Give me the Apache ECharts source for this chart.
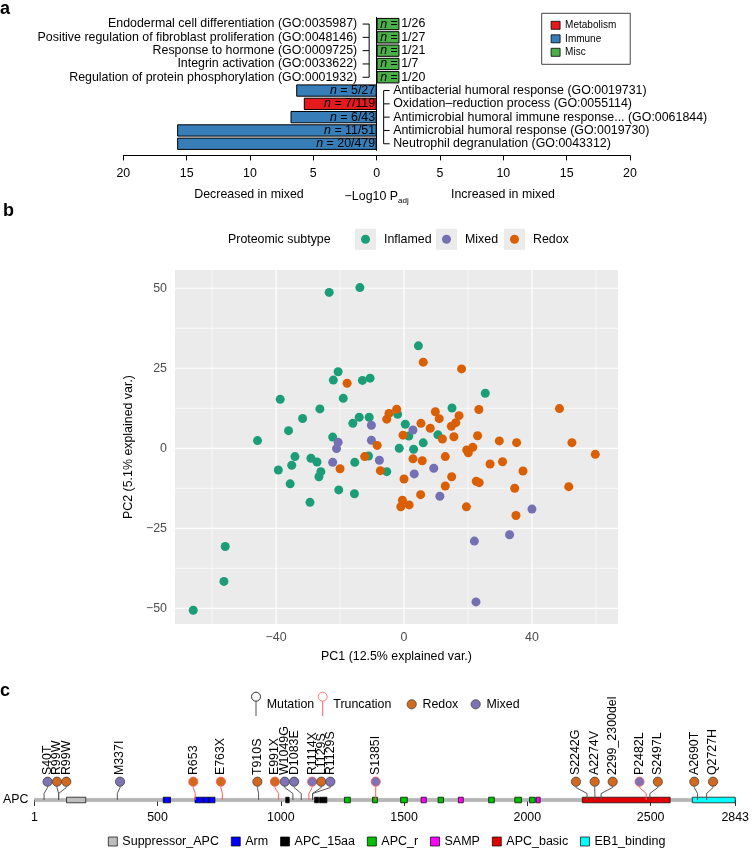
<!DOCTYPE html>
<html><head><meta charset="utf-8">
<script src="https://cdn.jsdelivr.net/npm/echarts@6/dist/echarts.min.js"></script>
<style>html,body{margin:0;padding:0;background:#fff}#chart{width:752px;height:848px}</style>
</head><body><div id="chart"></div>
<script>
const FONT = '"Liberation Sans", Arial, Helvetica, sans-serif';
const FS = 12.4;

// ---------- Panel a: GO enrichment ----------
const goTerms = [
  'Endodermal cell differentiation (GO:0035987)',
  'Positive regulation of fibroblast proliferation (GO:0048146)',
  'Response to hormone (GO:0009725)',
  'Integrin activation (GO:0033622)',
  'Regulation of protein phosphorylation (GO:0001932)',
  'Antibacterial humoral response (GO:0019731)',
  'Oxidation\u2013reduction process (GO:0055114)',
  'Antimicrobial humoral immune response... (GO:0061844)',
  'Antimicrobial humoral response (GO:0019730)',
  'Neutrophil degranulation (GO:0043312)'
];
const goClass = ['Misc','Misc','Misc','Misc','Misc','Immune','Metabolism','Immune','Immune','Immune'];
const goSignedLogP = [1.8, 1.8, 1.8, 1.8, 1.8, -6.35, -5.75, -6.8, -15.75, -15.75];
const goCounts = ['1/26','1/27','1/21','1/7','1/20','5/27','7/119','6/43','11/51','20/479'];
const goClassNames = ['Metabolism','Immune','Misc'];
const goClassColors = ['#E41A1C','#377EB8','#4DAF4A'];

// ---------- Panel b: PCA ----------
const subtypeNames = ['Inflamed','Mixed','Redox'];
const subtypeColors = ['#1B9E77','#7570B3','#D95F02'];
const inflamedPoints = [
  [-23.4,48.7],[-13.8,50.2],[4.5,32],[25.4,17.2],[-20.6,23.9],[-22.1,21.3],[-13.0,21.2],[-10.6,21.9],
  [-38.7,15.3],[-19.0,15.6],[-26.3,12.3],[-31.7,9.3],[-36.1,5.5],[-45.8,2.4],[-22.3,3.5],[-16.0,7.8],
  [-14.0,9.7],[-10.9,9.7],[-34.1,-2.6],[-35.1,-5.3],[-39.3,-6.8],[-35.6,-11.1],[-29.1,-3.1],[-27.2,-4.3],
  [-26.0,-7.3],[-26.6,-8.9],[-15.4,-4.4],[-11.1,-2.4],[-5.4,-7.3],[-20.4,-13.0],[-15.5,-14.2],[-29.4,-16.9],
  [-2.0,10.6],[-1.5,0],[0.4,7.5],[1.5,3.8],[15.0,12.6],[10.6,4.2],[6.0,1.7],[3.0,-0.3],
  [-55.9,-30.7],[-56.3,-41.6],[-65.9,-50.6]
];
const mixedPoints = [
  [-20.6,1.9],[-21.1,-0.1],[-22.3,-4.4],[-10.2,7.2],[-10.2,2.5],[-7.7,-3.75],[2.8,5.7],[9.3,-6.25],
  [3.2,-8.0],[11.2,-15.0],[40,-19],[33,-27],[22,-29],[22.5,-48]
];
const redoxPoints = [
  [6.0,26.9],[-17.8,20.3],[18.0,24.8],[48.6,12.4],[52.5,1.75],[59.8,-1.9],[51.5,-12.0],[-5.4,9.1],
  [-4.7,10.9],[-2.3,12.2],[-0.3,4.1],[5.3,7.8],[8.2,6.25],[9.8,11.4],[11.0,9.25],[17.2,10.2],
  [16.2,8.0],[14.8,6.9],[12.0,2.9],[15.6,3.6],[23.4,12.1],[23.0,3.9],[29.8,2.3],[35.2,1.75],
  [2.8,-3.3],[5.7,-3.9],[12.9,-2.6],[19.6,-0.5],[21.5,0.3],[20.1,-1.4],[0,-9.6],[14.9,-8.9],
  [12.9,-11.8],[22.6,-10.3],[23.5,-10.75],[26.9,-4.9],[30.8,-4.2],[37.2,-7.1],[34.6,-12.5],[5.2,-14.5],
  [-0.5,-16.25],[1.6,-17.7],[-1.0,-18.25],[19.5,-18.3],[-20,-6.4],[-8.4,0.9],[-12.3,-2.6],[-7.4,-7.0],
  [35,-21]
];
const pcaExtentX = [-71.6, 66.9];
const pcaExtentY = [-54.9, 55.7];
const pc1Ticks = [-40, 0, 40];
const pc1Minor = [-60, -20, 20, 60];
const pc2Ticks = [-50, -25, 0, 25, 50];
const pc2Minor = [-37.5, -12.5, 12.5, 37.5];

// ---------- Panel c: APC lollipop ----------
const apcLength = 2843;
const apcTicks = [1, 500, 1000, 1500, 2000, 2500, 2843];
const mutLabels = ['S40T','R99W','R99W','M337I','R653','E763X','T910S','E991X','W1049G','D1083E','R1114X','L1129S','R1129S','S1385I','S2242G','A2274V','2299_2300del','P2482L','S2497L','A2690T','Q2727H'];
const mutPositions = [40,99,99,337,653,763,910,991,1049,1083,1114,1129,1129,1385,2242,2274,2299,2482,2497,2690,2727];
const mutDisplayPositions = [54,92,130,348,645,757,905,976,1016,1054,1127,1164,1201,1385,2197,2273,2346,2455,2529,2677,2753];
const mutSubtype = ['Mixed','Redox','Redox','Mixed','Redox','Redox','Redox','Redox','Mixed','Mixed','Mixed','Redox','Mixed','Mixed','Redox','Redox','Redox','Mixed','Redox','Redox','Redox'];
const mutType = ['Mutation','Mutation','Mutation','Mutation','Truncation','Truncation','Mutation','Truncation','Mutation','Mutation','Truncation','Mutation','Mutation','Truncation','Mutation','Mutation','Mutation','Truncation','Mutation','Mutation','Mutation'];
const lolliSubtypeColors = {Redox:'#D2691E', Mixed:'#7E73B5'};
const lolliTypeColors = {Mutation:'#555555', Truncation:'#FF5C5C'};
const domainNames = ['Suppressor_APC','Arm','APC_15aa','APC_r','SAMP','APC_basic','EB1_binding'];
const domainColors = ['#BEBEBE','#0000FF','#000000','#00C000','#FF00FF','#E00000','#00FFFF'];
const domainRanges = [
  [[131,209]],
  [[523,553],[652,687],[687,709],[709,733]],
  [[1020,1034],[1137,1153],[1157,1187]],
  [[1258,1282],[1372,1392],[1486,1513],[1638,1660],[1843,1866],[1949,1976],[2009,2032]],
  [[1569,1590],[1720,1740],[2036,2052]],
  [[2223,2579]],
  [[2669,2843]]
];

const chart = echarts.init(document.getElementById('chart'), null, {renderer:'canvas'});
const minusFmt = v => String(v).replace('-', '\u2212');

const goBarSeries = goClassNames.map((cls, k) => ({
  name: cls, type: 'bar', xAxisIndex: 0, yAxisIndex: 0,
  barWidth: 12.3, barGap: '-100%',
  data: goSignedLogP.map((v, i) => goClass[i] === cls ? v : '-'),
  itemStyle: {color: goClassColors[k], borderColor: '#000', borderWidth: 1},
  z: 3
}));

const goLabelSeries = {
  type: 'custom', xAxisIndex: 0, yAxisIndex: 0, clip: false, z: 6, silent: true,
  data: goTerms.map((t, i) => [0, i]),
  renderItem(params, api) {
    const i = params.dataIndex;
    const p = api.coord([0, i]);
    const x0 = p[0], y = p[1];
    const right = goSignedLogP[i] > 0;
    const bx = right ? x0 - 7.5 : x0 + 7;
    const tx = right ? x0 - 14 : x0 + 13;
    const ch = [];
    ch.push({type: 'text', style: {text: goTerms[i], x: right ? x0 - 19.5 : x0 + 16.5, y: y,
      align: right ? 'right' : 'left', verticalAlign: 'middle', fontSize: FS, fontFamily: FONT, fill: '#000'}});
    ch.push({type: 'text', style: {text: '{i|n} = ' + goCounts[i],
      rich: {i: {fontStyle: 'italic', fontSize: FS, fontFamily: FONT}},
      x: right ? x0 + 3.5 : x0 - 1.5, y: y, align: right ? 'left' : 'right', verticalAlign: 'middle',
      fontSize: FS, fontFamily: FONT, fill: '#000'}});
    ch.push({type: 'line', shape: {x1: bx, y1: y, x2: tx, y2: y}, style: {stroke: '#000', lineWidth: 1}});
    if (i + 1 < goTerms.length && (goSignedLogP[i + 1] > 0) === right) {
      const yn = api.coord([0, i + 1])[1];
      ch.push({type: 'line', shape: {x1: bx, y1: y, x2: bx, y2: yn}, style: {stroke: '#000', lineWidth: 1}});
    }
    return {type: 'group', children: ch};
  }
};

const pcaBackground = {
  type: 'custom', xAxisIndex: 1, yAxisIndex: 1, z: 1, silent: true, clip: false,
  data: [[0, 0]],
  renderItem(params, api) {
    const tl = api.coord([pcaExtentX[0], pcaExtentY[1]]);
    const br = api.coord([pcaExtentX[1], pcaExtentY[0]]);
    const ch = [{type: 'rect', shape: {x: tl[0], y: tl[1], width: br[0] - tl[0], height: br[1] - tl[1]}, style: {fill: '#EBEBEB'}}];
    const vline = (v, w) => { const x = api.coord([v, 0])[0]; ch.push({type: 'line', shape: {x1: x, y1: tl[1], x2: x, y2: br[1]}, style: {stroke: '#fff', lineWidth: w}}); };
    const hline = (v, w) => { const y = api.coord([0, v])[1]; ch.push({type: 'line', shape: {x1: tl[0], y1: y, x2: br[0], y2: y}, style: {stroke: '#fff', lineWidth: w}}); };
    pc1Minor.forEach(v => vline(v, 0.6));
    pc2Minor.forEach(v => hline(v, 0.6));
    pc1Ticks.forEach(v => vline(v, 1.2));
    pc2Ticks.forEach(v => hline(v, 1.2));
    return {type: 'group', children: ch};
  }
};

const pcaSeries = [inflamedPoints, mixedPoints, redoxPoints].map((pts, k) => ({
  name: subtypeNames[k], type: 'scatter', xAxisIndex: 1, yAxisIndex: 1,
  symbolSize: 9, data: pts, itemStyle: {color: subtypeColors[k], opacity: 1}, z: 3
}));

const backboneSeries = {
  type: 'custom', xAxisIndex: 2, yAxisIndex: 2, z: 2, silent: true,
  data: [[1, apcLength]], encode: {x: [0, 1]},
  renderItem(params, api) {
    const s = api.coord([api.value(0), 0]), e = api.coord([api.value(1), 0]);
    return {type: 'rect', shape: {x: s[0], y: s[1] - 1.6, width: e[0] - s[0], height: 3.2},
      style: {fill: '#B5B5B5', stroke: '#8A8A8A', lineWidth: 0.4}};
  }
};
const domainSeries = domainNames.map((nm, k) => ({
  name: nm, type: 'custom', xAxisIndex: 2, yAxisIndex: 2, z: 3, silent: true,
  itemStyle: {color: domainColors[k]},
  data: domainRanges[k], encode: {x: [0, 1]},
  renderItem(params, api) {
    const s = api.coord([api.value(0), 0]), e = api.coord([api.value(1), 0]);
    return {type: 'rect', shape: {x: s[0], y: s[1] - 2.8, width: e[0] - s[0], height: 5.6},
      style: {fill: domainColors[k], stroke: '#000', lineWidth: 0.7}};
  }
}));
const lolliSeries = {
  type: 'custom', xAxisIndex: 2, yAxisIndex: 2, z: 4, silent: true, clip: false,
  data: mutPositions.map((p, i) => [p, mutDisplayPositions[i]]), encode: {x: [0, 1]},
  renderItem(params, api) {
    const i = params.dataIndex;
    const b = api.coord([api.value(0), 0]);
    const t = api.coord([api.value(1), 0]);
    const yb = b[1];
    const r = 4.6;
    const cy = yb - 18.3;
    const stemCol = lolliTypeColors[mutType[i]];
    return {type: 'group', children: [
      {type: 'polyline', shape: {points: [[b[0], yb], [b[0], yb - 6.5], [t[0], yb - 12.5], [t[0], cy + r]]},
        style: {stroke: stemCol, lineWidth: 1, fill: null}},
      {type: 'circle', shape: {cx: t[0], cy: cy, r: r},
        style: {fill: lolliSubtypeColors[mutSubtype[i]], stroke: mutType[i] === 'Truncation' ? '#FF5C5C' : '#444', lineWidth: 0.8}},
      {type: 'text', x: t[0], y: cy - r - 2, rotation: Math.PI / 2,
        style: {text: mutLabels[i], align: 'left', verticalAlign: 'middle', fontSize: FS, fontFamily: FONT, fill: '#000'}}
    ]};
  }
};

// Panel b legend (ggplot-style keys with grey backgrounds)
const pcaLegendKeyX = [355, 436, 504];
const pcaLegendGraphic = [];
subtypeNames.forEach((nm, k) => {
  const x = pcaLegendKeyX[k];
  pcaLegendGraphic.push({type: 'rect', shape: {x: x, y: 228.8, width: 21, height: 21}, style: {fill: '#EBEBEB'}});
  pcaLegendGraphic.push({type: 'circle', shape: {cx: x + 10.5, cy: 239.3, r: 4.5}, style: {fill: subtypeColors[k]}});
  pcaLegendGraphic.push({type: 'text', x: x + 29, y: 239.3, style: {text: nm, font: FS + 'px ' + FONT, fill: '#000', textVerticalAlign: 'middle'}});
});

const option = {
  animation: false,
  backgroundColor: '#fff',
  textStyle: {fontFamily: FONT},
  grid: [
    {left: 123.3, right: 122, top: 17.4, height: 133},
    {left: 175, right: 134, top: 270, height: 354},
    {left: 31, right: 14.7, top: 690, height: 110}
  ],
  xAxis: [
    {gridIndex: 0, type: 'value', min: -20, max: 20, interval: 5, offset: 5,
      axisLine: {show: true, lineStyle: {color: '#000', width: 1}},
      axisTick: {show: true, length: 5, lineStyle: {color: '#000'}},
      axisLabel: {formatter: v => Math.abs(v), fontSize: FS, color: '#000', margin: 12},
      splitLine: {show: false},
      name: '\u2212Log10 P{s|adj}', nameLocation: 'middle', nameGap: 33,
      nameTextStyle: {fontSize: FS, color: '#000', rich: {s: {fontSize: 8, padding: [8, 0, 0, 0]}}}},
    {gridIndex: 1, type: 'value', min: pcaExtentX[0], max: pcaExtentX[1],
      axisLine: {show: false},
      axisTick: {show: true, length: 3.6, customValues: pc1Ticks, lineStyle: {color: '#333'}},
      axisLabel: {customValues: pc1Ticks, formatter: minusFmt, fontSize: FS, color: '#4D4D4D', margin: 8},
      splitLine: {show: false},
      name: 'PC1 (12.5% explained var.)', nameLocation: 'middle', nameGap: 27,
      nameTextStyle: {fontSize: FS, color: '#000'}},
    {gridIndex: 2, type: 'value', min: 1, max: apcLength,
      axisLine: {show: true, lineStyle: {color: '#555', width: 1}},
      axisTick: {show: true, length: 6, customValues: apcTicks, lineStyle: {color: '#333'}},
      axisLabel: {customValues: apcTicks, formatter: v => String(v), fontSize: FS, color: '#000', margin: 12},
      splitLine: {show: false}}
  ],
  yAxis: [
    {gridIndex: 0, type: 'category', inverse: true, data: goTerms,
      axisLine: {show: true, onZero: true, lineStyle: {color: '#000', width: 1}},
      axisTick: {show: false}, axisLabel: {show: false}},
    {gridIndex: 1, type: 'value', min: pcaExtentY[0], max: pcaExtentY[1],
      axisLine: {show: false},
      axisTick: {show: true, length: 3.6, customValues: pc2Ticks, lineStyle: {color: '#333'}},
      axisLabel: {customValues: pc2Ticks, formatter: minusFmt, fontSize: FS, color: '#4D4D4D', margin: 8},
      splitLine: {show: false},
      name: 'PC2 (5.1% explained var.)', nameLocation: 'middle', nameGap: 40,
      nameTextStyle: {fontSize: FS, color: '#000'}},
    {gridIndex: 2, type: 'value', min: 0, max: 1,
      axisLine: {show: false}, axisTick: {show: false},
      axisLabel: {customValues: [0], formatter: () => 'APC', fontSize: FS, color: '#000', margin: 6},
      splitLine: {show: false}}
  ],
  legend: [
    {data: goClassNames, orient: 'vertical', left: 541.7, top: 13.3, padding: [6, 14, 6, 9],
      itemWidth: 9, itemHeight: 8, itemGap: 1.5, icon: 'rect', selectedMode: false,
      borderColor: '#444', borderWidth: 1,
      itemStyle: {borderColor: '#000', borderWidth: 0.8},
      textStyle: {fontSize: 10, color: '#000', lineHeight: 12}},
    {data: domainNames, left: 108, top: 835, padding: 0, itemWidth: 9, itemHeight: 9, itemGap: 12,
      icon: 'rect', selectedMode: false,
      itemStyle: {borderColor: '#000', borderWidth: 0.7},
      textStyle: {fontSize: 12.5, color: '#000'}}
  ],
  graphic: [
    {type: 'text', x: 0, y: 0, style: {text: 'a', font: 'bold 18px ' + FONT, fill: '#000', textVerticalAlign: 'top'}},
    {type: 'text', x: 3, y: 202, style: {text: 'b', font: 'bold 18px ' + FONT, fill: '#000', textVerticalAlign: 'top'}},
    {type: 'text', x: 0, y: 682, style: {text: 'c', font: 'bold 18px ' + FONT, fill: '#000', textVerticalAlign: 'top'}},
    {type: 'text', x: 249, y: 195, style: {text: 'Decreased in mixed', font: FS + 'px ' + FONT, fill: '#000', textAlign: 'center', textVerticalAlign: 'middle'}},
    {type: 'text', x: 503, y: 195, style: {text: 'Increased in mixed', font: FS + 'px ' + FONT, fill: '#000', textAlign: 'center', textVerticalAlign: 'middle'}},
    {type: 'text', x: 228, y: 239.3, style: {text: 'Proteomic subtype', font: FS + 'px ' + FONT, fill: '#000', textVerticalAlign: 'middle'}},
    ...pcaLegendGraphic,
    {type: 'line', shape: {x1: 256, y1: 701, x2: 256, y2: 716}, style: {stroke: '#555', lineWidth: 1}},
    {type: 'circle', shape: {cx: 256, cy: 696.7, r: 4.5}, style: {fill: '#fff', stroke: '#000', lineWidth: 0.8}},
    {type: 'text', x: 266.7, y: 705, style: {text: 'Mutation', font: FS + 'px ' + FONT, fill: '#000', textVerticalAlign: 'middle'}},
    {type: 'line', shape: {x1: 322.7, y1: 701, x2: 322.7, y2: 716}, style: {stroke: '#FF5C5C', lineWidth: 1}},
    {type: 'circle', shape: {cx: 322.7, cy: 696.7, r: 4.5}, style: {fill: '#fff', stroke: '#FF5C5C', lineWidth: 0.8}},
    {type: 'text', x: 333.3, y: 705, style: {text: 'Truncation', font: FS + 'px ' + FONT, fill: '#000', textVerticalAlign: 'middle'}},
    {type: 'circle', shape: {cx: 411.7, cy: 704.3, r: 4.6}, style: {fill: lolliSubtypeColors.Redox, stroke: '#444', lineWidth: 0.8}},
    {type: 'text', x: 422.5, y: 705, style: {text: 'Redox', font: FS + 'px ' + FONT, fill: '#000', textVerticalAlign: 'middle'}},
    {type: 'circle', shape: {cx: 475.7, cy: 704.3, r: 4.6}, style: {fill: lolliSubtypeColors.Mixed, stroke: '#444', lineWidth: 0.8}},
    {type: 'text', x: 486.5, y: 705, style: {text: 'Mixed', font: FS + 'px ' + FONT, fill: '#000', textVerticalAlign: 'middle'}}
  ],
  series: [
    ...goBarSeries, goLabelSeries,
    pcaBackground, ...pcaSeries,
    backboneSeries, ...domainSeries, lolliSeries
  ]
};
chart.setOption(option);
</script>
</body></html>
